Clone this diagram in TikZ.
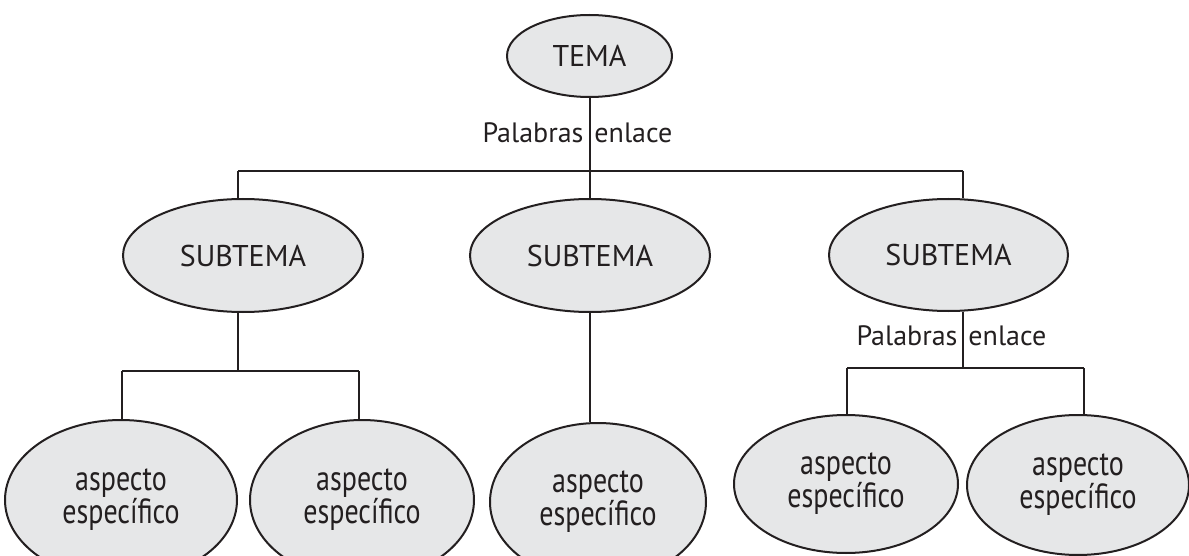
\documentclass[tikz,border=0pt]{standalone}
\usepackage{fontspec}
\setmainfont{PT Sans}
\newfontfamily\aspfont[FakeStretch=0.8]{PT Sans}
\usetikzlibrary{shapes.geometric}
\definecolor{ink}{HTML}{231F20}
\definecolor{fillg}{HTML}{E6E7E8}
\tikzset{
  oval/.style={ellipse, draw=ink, fill=fillg, line width=2pt, inner sep=0pt, text=ink, font=\fontsize{30}{32}\selectfont},
  aspect/.style={oval, align=center, font=\aspfont\fontsize{35}{28}\selectfont},
  link/.style={draw=ink, line width=2pt},
  lbl/.style={text=ink, inner sep=0pt, font=\fontsize{28}{30}\selectfont}
}
\begin{document}
\begin{tikzpicture}[x=1pt,y=-1pt]
\useasboundingbox (0,0) rectangle (1189,556);
% main nodes
\node[oval, minimum width=165pt, minimum height=82pt] (tema) at (589.5,56) {TEMA};
\node[oval, minimum width=240pt, minimum height=113pt] (s1) at (243,255.5) {SUBTEMA};
\node[oval, minimum width=240pt, minimum height=113pt] (s2) at (590,255.5) {SUBTEMA};
\node[oval, minimum width=239pt, minimum height=112pt] (s3) at (948.5,255) {SUBTEMA};
\node[aspect, minimum width=232pt, minimum height=160pt] (a1) at (121,500) {aspecto\\específico};
\node[aspect, minimum width=224pt, minimum height=160pt] (a2) at (362,500) {aspecto\\específico};
\node[aspect, minimum width=216pt, minimum height=158pt] (a3) at (598,502) {aspecto\\específico};
\node[aspect, minimum width=224pt, minimum height=138pt] (a4) at (846,484) {aspecto\\específico};
\node[aspect, minimum width=222pt, minimum height=140pt] (a5) at (1078,485) {aspecto\\específico};
% junction points
\coordinate (t1) at (238,171);
\coordinate (t3) at (963,171);
\coordinate (l0) at (238,371);
\coordinate (l1) at (122,371);
\coordinate (l2) at (359,371);
\coordinate (r0) at (963,368);
\coordinate (r1) at (847,368);
\coordinate (r2) at (1084,368);
% connectors
\draw[link] (tema.south) -- (tema.south |- s2.north);
\draw[link] (t1) -- (t3);
\draw[link] (t1) -- (t1 |- s1.north);
\draw[link] (t3) -- (t3 |- s3.north);
\draw[link] (l0 |- s1.south) -- (l0);
\draw[link] (l1) -- (l2);
\draw[link] (l1) -- (l1 |- a1.north);
\draw[link] (l2) -- (l2 |- a2.north);
\draw[link] (s2.south) -- (s2.south |- a3.north);
\draw[link] (r0 |- s3.south) -- (r0);
\draw[link] (r1) -- (r2);
\draw[link] (r1) -- (r1 |- a4.north);
\draw[link] (r2) -- (r2 |- a5.north);
% link labels
\node[lbl, anchor=base] (pe1) at (589,143) {\llap{Palabras\hspace{5.5pt}}\rlap{\hspace{5.5pt}enlace}};
\node[lbl, anchor=base] (pe2) at (963,345) {\llap{Palabras\hspace{5.5pt}}\rlap{\hspace{5.5pt}enlace}};
\end{tikzpicture}
\end{document}
